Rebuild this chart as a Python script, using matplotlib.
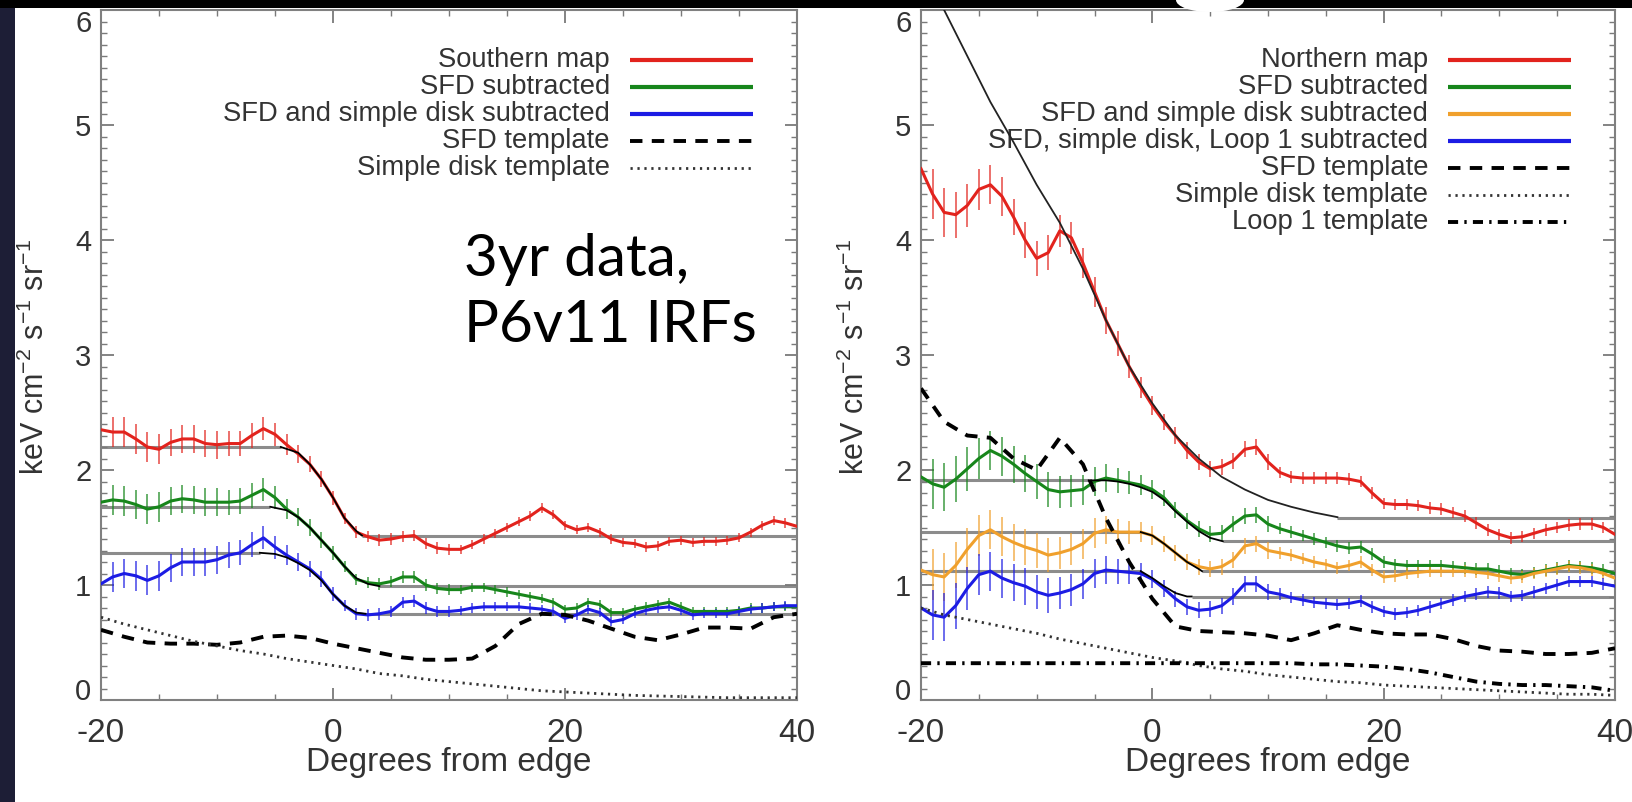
import matplotlib.pyplot as plt
from matplotlib.patches import Rectangle, Ellipse

# Fonts (Helvetica-like for the plot, Lato for the slide caption)
plt.rcParams['font.family'] = ['Liberation Sans', 'DejaVu Sans']
plt.rcParams['mathtext.fontset'] = 'custom'
plt.rcParams['mathtext.rm'] = 'Liberation Sans'
plt.rcParams['mathtext.it'] = 'Liberation Sans:italic'
plt.rcParams['mathtext.default'] = 'regular'
plt.rcParams['axes.unicode_minus'] = False

# x positions: data every degree, templates every 2 degrees
graus = list(range(-20, 41))
graus_tmpl = list(range(-20, 41, 2))

# ---------------- Southern map (left panel) ----------------
sul_mapa = [2.35, 2.33, 2.33, 2.27, 2.20, 2.18, 2.24, 2.27, 2.27, 2.23, 2.22, 2.23, 2.23, 2.30, 2.36, 2.31,
            2.22, 2.14, 2.05, 1.92, 1.76, 1.58, 1.46, 1.42, 1.39, 1.40, 1.42, 1.43, 1.36, 1.32, 1.31,
            1.31, 1.35, 1.40, 1.45, 1.50, 1.55, 1.60, 1.67, 1.61, 1.52, 1.48, 1.50, 1.46, 1.40, 1.37,
            1.36, 1.33, 1.34, 1.38, 1.39, 1.37, 1.38, 1.38, 1.39, 1.41, 1.46, 1.52, 1.56, 1.54, 1.51]
sul_sfd = [1.72, 1.74, 1.73, 1.70, 1.66, 1.68, 1.73, 1.75, 1.74, 1.72, 1.72, 1.72, 1.73, 1.78, 1.83, 1.76,
           1.66, 1.59, 1.50, 1.39, 1.28, 1.16, 1.05, 1.02, 1.01, 1.03, 1.07, 1.07, 1.00, 0.97, 0.96,
           0.96, 0.98, 0.98, 0.96, 0.94, 0.92, 0.90, 0.88, 0.85, 0.79, 0.80, 0.85, 0.83, 0.76, 0.76,
           0.79, 0.81, 0.83, 0.85, 0.81, 0.77, 0.77, 0.77, 0.77, 0.78, 0.80, 0.80, 0.81, 0.81, 0.81]
sul_disco = [1.01, 1.07, 1.10, 1.08, 1.04, 1.08, 1.15, 1.20, 1.20, 1.20, 1.22, 1.26, 1.28, 1.35, 1.41, 1.33,
             1.26, 1.20, 1.14, 1.05, 0.92, 0.82, 0.75, 0.74, 0.75, 0.77, 0.85, 0.86, 0.80, 0.77, 0.77,
             0.78, 0.80, 0.81, 0.81, 0.81, 0.81, 0.80, 0.79, 0.77, 0.71, 0.74, 0.79, 0.76, 0.68, 0.70,
             0.75, 0.78, 0.80, 0.81, 0.78, 0.74, 0.75, 0.75, 0.75, 0.77, 0.79, 0.80, 0.81, 0.82, 0.82]
err_sul = [0.13, 0.13, 0.13, 0.13, 0.13, 0.13, 0.12, 0.12, 0.12, 0.12, 0.12, 0.11, 0.11, 0.11, 0.10, 0.10,
           0.09, 0.08, 0.07, 0.07, 0.06, 0.05, 0.05, 0.05, 0.05, 0.05, 0.05, 0.05, 0.05, 0.05, 0.05,
           0.04, 0.04, 0.04, 0.04, 0.04, 0.04, 0.04, 0.04, 0.04, 0.04, 0.04, 0.04, 0.04, 0.04, 0.04,
           0.04, 0.04, 0.04, 0.04, 0.04, 0.04, 0.04, 0.04, 0.04, 0.04, 0.04, 0.04, 0.04, 0.04, 0.04]
sul_tmpl_sfd = [0.61, 0.55, 0.50, 0.49, 0.49, 0.48, 0.50, 0.55, 0.56, 0.54, 0.49, 0.45, 0.41, 0.37, 0.35, 0.35,
                0.36, 0.47, 0.66, 0.75, 0.74, 0.69, 0.62, 0.55, 0.52, 0.57, 0.63, 0.63, 0.62, 0.72, 0.75]
sul_tmpl_disco = [0.72, 0.66, 0.61, 0.56, 0.51, 0.47, 0.43, 0.40, 0.36, 0.33, 0.30, 0.27, 0.23, 0.21, 0.18, 0.16,
                  0.14, 0.12, 0.10, 0.08, 0.07, 0.06, 0.05, 0.04, 0.035, 0.03, 0.025, 0.02, 0.02, 0.02, 0.02]

# fitted levels: (level, x start, x end) and the fitted step in between
sul_niveis = [(2.20, -20, -4.5), (1.43, 2.5, 40),
              (1.68, -20, -5.4), (0.99, 4, 40),
              (1.28, -20, -6.3), (0.75, 2.8, 40)]
sul_passos = [([-4.5, -3, -2, -1, 0, 1, 2, 2.5], [2.20, 2.15, 2.05, 1.92, 1.76, 1.58, 1.47, 1.43]),
              ([-5.4, -4, -3, -2, -1, 0, 1, 2, 3, 4], [1.68, 1.65, 1.59, 1.50, 1.39, 1.28, 1.16, 1.06, 1.01, 0.99]),
              ([-6.3, -5, -4, -3, -2, -1, 0, 1, 2, 2.8], [1.28, 1.27, 1.24, 1.19, 1.13, 1.04, 0.92, 0.82, 0.76, 0.75])]

# ---------------- Northern map (right panel) ----------------
norte_mapa = [4.62, 4.40, 4.24, 4.22, 4.30, 4.44, 4.48, 4.38, 4.20, 4.00, 3.84, 3.89, 4.08, 4.02, 3.80, 3.55,
              3.30, 3.10, 2.90, 2.72, 2.56, 2.42, 2.30, 2.17, 2.07, 2.01, 2.03, 2.08, 2.18, 2.20, 2.07,
              1.98, 1.94, 1.93, 1.93, 1.93, 1.93, 1.92, 1.90, 1.80, 1.71, 1.70, 1.70, 1.69, 1.67, 1.66,
              1.63, 1.60, 1.54, 1.48, 1.44, 1.41, 1.42, 1.45, 1.48, 1.50, 1.52, 1.53, 1.53, 1.50, 1.44]
norte_sfd = [1.94, 1.88, 1.85, 1.92, 2.01, 2.10, 2.17, 2.12, 2.05, 1.97, 1.90, 1.83, 1.81, 1.82, 1.83, 1.90,
             1.93, 1.91, 1.89, 1.87, 1.83, 1.76, 1.65, 1.56, 1.49, 1.44, 1.45, 1.53, 1.60, 1.61, 1.53,
             1.49, 1.46, 1.43, 1.40, 1.37, 1.34, 1.32, 1.33, 1.27, 1.20, 1.18, 1.17, 1.17, 1.17, 1.17,
             1.16, 1.15, 1.14, 1.14, 1.12, 1.10, 1.09, 1.11, 1.13, 1.15, 1.17, 1.16, 1.15, 1.13, 1.10]
norte_disco = [1.13, 1.09, 1.07, 1.17, 1.31, 1.43, 1.48, 1.42, 1.37, 1.33, 1.30, 1.26, 1.28, 1.31, 1.36, 1.45,
               1.48, 1.46, 1.46, 1.46, 1.43, 1.36, 1.28, 1.20, 1.16, 1.14, 1.16, 1.22, 1.34, 1.36, 1.30,
               1.28, 1.26, 1.23, 1.20, 1.18, 1.15, 1.17, 1.20, 1.13, 1.07, 1.08, 1.10, 1.11, 1.12, 1.12,
               1.12, 1.12, 1.11, 1.10, 1.08, 1.06, 1.07, 1.10, 1.12, 1.14, 1.16, 1.15, 1.13, 1.10, 1.06]
norte_loop = [0.80, 0.74, 0.72, 0.82, 0.97, 1.09, 1.12, 1.06, 1.02, 0.99, 0.94, 0.91, 0.93, 0.96, 1.01, 1.10,
              1.13, 1.12, 1.11, 1.10, 1.05, 0.97, 0.88, 0.81, 0.78, 0.79, 0.82, 0.90, 1.01, 1.01, 0.94,
              0.92, 0.89, 0.87, 0.85, 0.84, 0.83, 0.84, 0.86, 0.81, 0.77, 0.75, 0.76, 0.78, 0.81, 0.84,
              0.87, 0.90, 0.92, 0.94, 0.93, 0.90, 0.91, 0.94, 0.97, 1.00, 1.03, 1.03, 1.03, 1.01, 0.99]
err_norte = [0.22, 0.22, 0.21, 0.20, 0.19, 0.18, 0.17, 0.17, 0.16, 0.16, 0.15, 0.15, 0.14, 0.14, 0.13, 0.13,
             0.12, 0.11, 0.10, 0.09, 0.08, 0.07, 0.07, 0.07, 0.07, 0.07, 0.07, 0.07, 0.07, 0.07, 0.07,
             0.05, 0.05, 0.05, 0.05, 0.05, 0.05, 0.05, 0.05, 0.05, 0.05, 0.05, 0.05, 0.05, 0.05, 0.05,
             0.05, 0.05, 0.05, 0.05, 0.05, 0.05, 0.05, 0.05, 0.05, 0.05, 0.05, 0.05, 0.05, 0.05, 0.05]
norte_tmpl_sfd = [2.71, 2.42, 2.30, 2.28, 2.10, 2.00, 2.28, 2.05, 1.58, 1.20, 0.88, 0.64, 0.60, 0.59, 0.58, 0.56,
                  0.52, 0.58, 0.65, 0.61, 0.58, 0.57, 0.57, 0.53, 0.47, 0.43, 0.42, 0.40, 0.40, 0.41, 0.45]
norte_tmpl_disco = [0.80, 0.74, 0.70, 0.66, 0.62, 0.58, 0.53, 0.49, 0.45, 0.41, 0.37, 0.34, 0.30, 0.27, 0.25, 0.22,
                    0.20, 0.18, 0.16, 0.15, 0.13, 0.12, 0.11, 0.10, 0.09, 0.08, 0.07, 0.06, 0.05, 0.05, 0.04]
norte_tmpl_loop = [0.32, 0.32, 0.32, 0.32, 0.32, 0.32, 0.32, 0.32, 0.32, 0.32, 0.32, 0.32, 0.32, 0.32, 0.32, 0.32,
                   0.32, 0.31, 0.31, 0.30, 0.29, 0.27, 0.24, 0.20, 0.16, 0.14, 0.13, 0.13, 0.12, 0.11, 0.08]

# smooth model through the northern map and fitted levels
norte_modelo_x = [-20, -18, -16, -14, -12, -10, -8, -6, -4, -2, 0, 2, 4, 6, 8, 10, 12, 14, 16]
norte_modelo_y = [6.5, 6.0, 5.6, 5.2, 4.85, 4.48, 4.15, 3.75, 3.3, 2.9, 2.58, 2.30, 2.10, 1.94, 1.83, 1.74,
                  1.68, 1.63, 1.59]
norte_niveis = [(1.58, 16, 40),
                (1.91, -20, -5.5), (1.38, 6.1, 40),
                (1.46, -20, -1), (1.12, 4.3, 40),
                (1.12, -20, -1), (0.90, 3.4, 40)]
norte_passos = [([-5.5, -4, -3, -2, -1, 0, 1, 2, 3, 4, 5, 6.1], [1.91, 1.91, 1.90, 1.88, 1.85, 1.81, 1.74, 1.64, 1.55, 1.47, 1.41, 1.38]),
                ([-1, 0, 1, 2, 3, 4, 4.3], [1.46, 1.43, 1.36, 1.28, 1.20, 1.14, 1.12]),
                ([-1, 0, 1, 2, 3, 3.4], [1.12, 1.06, 0.99, 0.93, 0.90, 0.90])]

# Colours and line styles
vermelho = '#e2231d'
verde = '#17861b'
laranja = '#f0a02c'
azul = '#1c1ce4'
cinza_txt = '#333333'
tracejado = (0, (3.2, 2.4))
pontilhado = (0, (0.8, 1.7))
traco_ponto = (0, (2.6, 1.6, 0.6, 1.6))

fig = plt.figure(figsize=(16.32, 8.02), dpi=100, facecolor='white')
ax1 = fig.add_axes([101 / 1632, 1 - 700 / 802, 696 / 1632, 690 / 802])
ax2 = fig.add_axes([921 / 1632, 1 - 700 / 802, 694 / 1632, 690 / 802])


def estilo(ax):
    ax.set_xlim(-20, 40)
    ax.set_ylim(0, 6)
    ax.set_xticks([-20, 0, 20, 40])
    ax.set_xticks(range(-20, 41, 5), minor=True)
    ax.set_yticks(range(7))
    ax.set_yticks([i / 10 for i in range(61)], minor=True)
    ax.tick_params(which='both', direction='in', top=True, right=True, color='#7a7a7a')
    ax.tick_params(which='major', length=9, width=1.3)
    ax.tick_params(which='minor', length=4.5, width=1.0)
    ax.tick_params(axis='x', labelsize=24, pad=13, labelcolor=cinza_txt)
    ax.tick_params(axis='y', labelsize=21, pad=7, labelcolor=cinza_txt)
    for s in ax.spines.values():
        s.set_color('#808080')
        s.set_linewidth(1.5)
    ax.set_xlabel('Degrees from edge', fontsize=24, color=cinza_txt)
    ax.set_ylabel('keV cm$^{-2}$ s$^{-1}$ sr$^{-1}$', fontsize=22, color=cinza_txt)
    ax.xaxis.set_label_coords(0.5, -0.068)
    ax.yaxis.set_label_coords(-0.072, 0.497)
    # end labels sit inside the axis range, as in the original
    ticks = ax.yaxis.get_major_ticks()
    ticks[0].label1.set_va('baseline')
    ticks[-1].label1.set_va('top')


def serie(ax, y, err, cor):
    ax.errorbar(graus, y, yerr=err, fmt='none', ecolor=cor, elinewidth=1.3, alpha=0.7, zorder=2)
    ax.plot(graus, y, color=cor, lw=2.2, zorder=3)


def legenda(ax, nomes, estilos):
    for i, nome in enumerate(nomes):
        cor, ls, lw = estilos[i]
        y = 0.928 - i * 0.0392
        ax.text(0.731, y, nome, transform=ax.transAxes, ha='right', va='center',
                fontsize=19.7, color=cinza_txt)
        ax.plot([0.760, 0.937], [y, y], transform=ax.transAxes, color=cor, ls=ls, lw=lw,
                clip_on=False, solid_capstyle='butt')


# ---- left panel ----
for nivel, x0, x1 in sul_niveis:
    ax1.hlines(nivel, x0, x1, color='#8c8c8c', lw=2.2, zorder=1)
serie(ax1, sul_mapa, err_sul, vermelho)
serie(ax1, sul_sfd, err_sul, verde)
serie(ax1, sul_disco, err_sul, azul)
for px, py in sul_passos:
    ax1.plot(px, py, color='black', lw=1.3, zorder=4)
ax1.plot(graus_tmpl, sul_tmpl_sfd, color='black', ls=tracejado, lw=2.8, zorder=5)
ax1.plot(graus_tmpl, sul_tmpl_disco, color='#333333', ls=pontilhado, lw=2.0, zorder=5)
estilo(ax1)
legenda(ax1, ['Southern map', 'SFD subtracted', 'SFD and simple disk subtracted',
              'SFD template', 'Simple disk template'],
        [(vermelho, '-', 3), (verde, '-', 3), (azul, '-', 3),
         ('black', tracejado, 2.8), ('#333333', pontilhado, 2.0)])
ax1.text(0.522, 0.591, '3yr data,\nP6v11 IRFs', transform=ax1.transAxes, ha='left', va='center',
         multialignment='left', fontsize=42, family=['Lato', 'DejaVu Sans'], linespacing=1.3,
         color='black')

# ---- right panel ----
for nivel, x0, x1 in norte_niveis:
    ax2.hlines(nivel, x0, x1, color='#8c8c8c', lw=2.2, zorder=1)
serie(ax2, norte_mapa, err_norte, vermelho)
serie(ax2, norte_sfd, err_norte, verde)
serie(ax2, norte_disco, err_norte, laranja)
serie(ax2, norte_loop, err_norte, azul)
ax2.plot(norte_modelo_x, norte_modelo_y, color='#222222', lw=1.3, zorder=4)
for px, py in norte_passos:
    ax2.plot(px, py, color='black', lw=1.3, zorder=4)
ax2.plot(graus_tmpl, norte_tmpl_sfd, color='black', ls=tracejado, lw=2.8, zorder=5)
ax2.plot(graus_tmpl, norte_tmpl_disco, color='#333333', ls=pontilhado, lw=2.0, zorder=5)
ax2.plot(graus_tmpl, norte_tmpl_loop, color='black', ls=traco_ponto, lw=2.8, zorder=5)
estilo(ax2)
legenda(ax2, ['Northern map', 'SFD subtracted', 'SFD and simple disk subtracted',
              'SFD, simple disk, Loop 1 subtracted', 'SFD template', 'Simple disk template',
              'Loop 1 template'],
        [(vermelho, '-', 3), (verde, '-', 3), (laranja, '-', 3), (azul, '-', 3),
         ('black', tracejado, 2.8), ('#333333', pontilhado, 2.0), ('black', traco_ponto, 2.8)])

# slide background around the picture
fig.patches.append(Rectangle((0, 0), 15 / 1632, 1, transform=fig.transFigure,
                             facecolor='#1d1e36', edgecolor='none'))
fig.patches.append(Rectangle((0, 1 - 8 / 802), 1, 8 / 802, transform=fig.transFigure,
                             facecolor='black', edgecolor='none'))
fig.patches.append(Ellipse((1210 / 1632, 1), 68 / 1632, 24 / 802, transform=fig.transFigure,
                           facecolor='white', edgecolor='none'))

fig.savefig('out.png', dpi=100, facecolor='white')
